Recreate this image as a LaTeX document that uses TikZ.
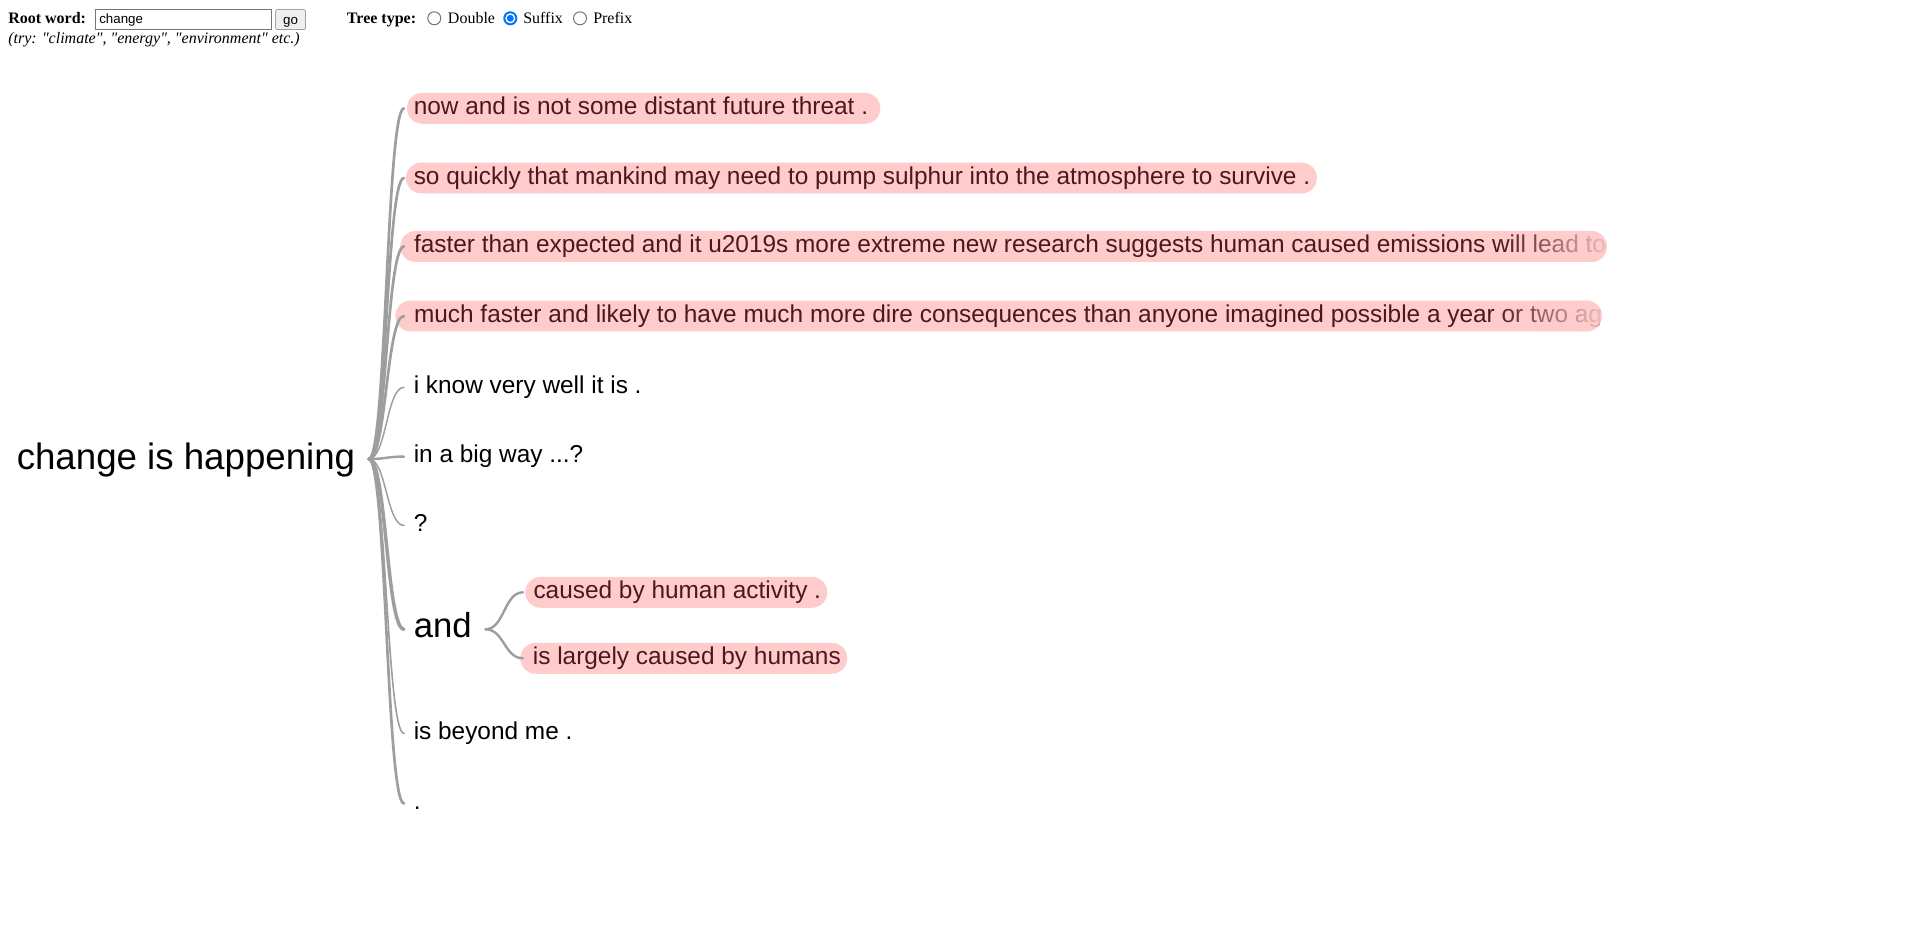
\documentclass[tikz,border=0pt]{standalone}
\usepackage{fontspec}
\setmainfont{Liberation Serif}[Ligatures=TeXOff]
\newfontfamily\arialf{Liberation Sans}
\usetikzlibrary{calc,fadings}
\definecolor{pillpink}{RGB}{255,204,204}
\definecolor{pilltext}{RGB}{80,22,30}
\definecolor{linkgray}{RGB}{158,158,158}
\definecolor{ctrlgray}{RGB}{118,118,118}
\definecolor{btnfill}{RGB}{239,239,239}
\definecolor{radioblue}{RGB}{0,117,255}
\tikzfading[name=fadeR, left color=transparent!100, middle color=transparent!45, right color=transparent!8]
\newcommand\leaffont{\arialf\fontsize{18.3pt}{21pt}\selectfont}
\newcommand\pbox[3]{\makebox[#1][l]{\hspace*{#2}#3}}
\newcommand\lnk[3][1.5pt]{\draw[linkstroke, line width=#1] let \p1=(#2), \p2=(#3), \p3=($(\p1)!0.5!(\p2)$) in (\p1) .. controls (\x3,\y1) and (\x3,\y2) .. (\p2);}
\tikzset{
  leaf/.style={anchor=west, inner xsep=6pt, inner ysep=3.2pt, text height=13pt, text depth=3.8pt, font=\leaffont},
  pill/.style={leaf, inner xsep=0pt, fill=pillpink, text=pilltext, rounded corners=11.6pt},
  pilltxt/.style={anchor=west, inner sep=0pt, minimum width=0pt, minimum height=0pt, text height=13pt, text depth=3.8pt, font=\leaffont, text=pilltext},
  linkstroke/.style={draw=linkgray, line cap=round},
  hdr/.style={anchor=base west, inner sep=0pt, font=\fontsize{12pt}{14pt}\selectfont},
  hdrb/.style={anchor=base west, inner sep=0pt, font=\bfseries\fontsize{12pt}{14pt}\selectfont},
  radio/.style={circle, draw=ctrlgray, fill=white, line width=0.75pt, minimum size=9.75pt, inner sep=0pt},
}
\begin{document}
\begin{tikzpicture}[x=0.75pt, y=-0.75pt]
\useasboundingbox (0,0) rectangle (1920,937);
\fill[white] (0,0) rectangle (1920,937);

% header controls
\node[hdrb] (rw) at (8,23.3) {Root word:};
\node[draw=ctrlgray, fill=white, anchor=north west, minimum width=131.8pt, minimum height=15pt, inner sep=0pt] (inp) at (95,9.3) {};
\node[anchor=base west, inner sep=0pt, font=\arialf\fontsize{10pt}{12pt}\selectfont] (inptxt) at (99,23.8) {change};
\node[draw=ctrlgray, fill=btnfill, rounded corners=1.5pt, anchor=north west, minimum width=22.5pt, minimum height=15pt, inner sep=0pt] (gobtn) at (275.3,9.3) {};
\node[anchor=base, inner sep=0pt, font=\arialf\fontsize{10pt}{12pt}\selectfont] (gotxt) at ([yshift=-3.4pt]gobtn.center) {go};
\node[hdrb] (tt) at (346.7,23.3) {Tree type:};
\node[radio] (r1) at (434.3,18.3) {};
\node[hdr] (l1) at (447.7,23.3) {Double};
\node[radio, draw=radioblue, fill=radioblue] (r2) at (510.3,18.3) {};
\node[circle, fill=white, minimum size=7.6pt, inner sep=0pt] (r2w) at (r2) {};
\node[circle, fill=radioblue, minimum size=5.2pt, inner sep=0pt] (r2d) at (r2) {};
\node[hdr] (l2) at (523,23.3) {Suffix};
\node[radio] (r3) at (580,18.3) {};
\node[hdr] (l3) at (593,23.3) {Prefix};
\node[anchor=base west, inner sep=0pt, font=\itshape\fontsize{12pt}{14pt}\selectfont] (try) at (8,43.5) {(try: "climate", "energy", "environment" etc.)};

% root
\node[anchor=west, inner sep=0pt, font=\arialf\fontsize{27.5pt}{32pt}\selectfont, text height=20pt, text depth=3.5pt] (root) at (16.5,459) {change is happening};
\coordinate (rj) at ([xshift=10pt]root.east);

% level 1
\node[pill] (n1) at (406.7,108.3) {\pbox{355pt}{5.1pt}{now and is not some distant future threat .}};
\node[pill] (n2) at (405.7,178) {\pbox{683.2pt}{5.85pt}{so quickly that mankind may need to pump sulphur into the atmosphere to survive .}};
\node[pill, minimum width=905pt, path picture={
  \node[pilltxt] (n3t) at ([xshift=10.1pt]path picture bounding box.west) {faster than expected and it u2019s more extreme new research suggests human caused emissions will lead to};
  \fill[pillpink, path fading=fadeR] ([xshift=-80pt]path picture bounding box.north east) rectangle (path picture bounding box.south east);
}] (n3) at (400,246.5) {};
\node[pill, minimum width=905pt, path picture={
  \node[pilltxt] (n4t) at ([xshift=13.9pt]path picture bounding box.west) {much faster and likely to have much more dire consequences than anyone imagined possible a year or two ag};
  \fill[pillpink, path fading=fadeR] ([xshift=-82pt]path picture bounding box.north east) rectangle (path picture bounding box.south east);
}] (n4) at (395,316) {};
\node[leaf] (n5) at (405.5,387.3) {i know very well it is .};
\node[leaf] (n6) at (405.5,456.6) {in a big way ...?};
\node[leaf] (n7) at (405.5,525.5) {?};
\node[leaf, font=\arialf\fontsize{26pt}{30pt}\selectfont, text height=18.6pt, text depth=6pt] (n8) at (405.5,629.3) {and};
\coordinate (aj) at ([xshift=4.2pt]n8.east);
\node[pill] (n8a) at (525,592.3) {\pbox{226.5pt}{6.2pt}{caused by human activity .}};
\node[pill] (n8b) at (520,658.3) {\pbox{245.25pt}{9.5pt}{is largely caused by humans}};
\node[leaf] (n9) at (405.5,733.5) {is beyond me .};
\node[leaf] (n10) at (405.5,803.5) {.};

% links
\lnk[2pt]{rj}{[xshift=-2pt]n1.west}
\lnk[2pt]{rj}{[xshift=-1.3pt]n2.west}
\lnk[2pt]{rj}{[xshift=3pt]n3.west}
\lnk[2pt]{rj}{[xshift=6.75pt]n4.west}
\lnk[1.1pt]{rj}{[xshift=-1.1pt]n5.west}
\lnk[1.8pt]{rj}{[xshift=-1.1pt]n6.west}
\lnk[1.1pt]{rj}{[xshift=-1.1pt]n7.west}
\lnk[2.6pt]{rj}{[xshift=-1.1pt]n8.west}
\lnk[1.2pt]{rj}{[xshift=-1.1pt]n9.west}
\lnk[2pt]{rj}{[xshift=-1.1pt]n10.west}
\lnk[1.8pt]{aj}{[xshift=-1.5pt]n8a.west}
\lnk[1.8pt]{aj}{[xshift=2.25pt]n8b.west}
\end{tikzpicture}
\end{document}
